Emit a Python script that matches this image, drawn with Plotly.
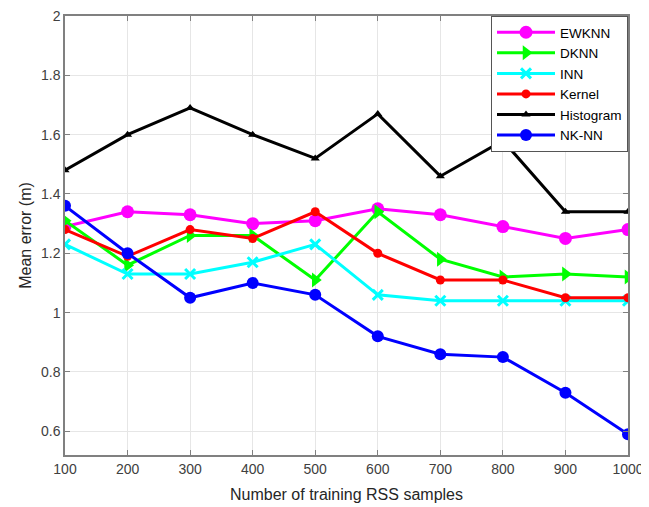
import plotly.graph_objects as go

x_vals = [100, 200, 300, 400, 500, 600, 700, 800, 900, 1000]
ewknn = [1.29, 1.34, 1.33, 1.30, 1.31, 1.35, 1.33, 1.29, 1.25, 1.28]
dknn = [1.31, 1.16, 1.26, 1.26, 1.11, 1.34, 1.18, 1.12, 1.13, 1.12]
inn = [1.23, 1.13, 1.13, 1.17, 1.23, 1.06, 1.04, 1.04, 1.04, 1.04]
kernel = [1.28, 1.19, 1.28, 1.25, 1.34, 1.20, 1.11, 1.11, 1.05, 1.05]
histogram = [1.48, 1.60, 1.69, 1.60, 1.52, 1.67, 1.46, 1.58, 1.34, 1.34]
nknn = [1.36, 1.20, 1.05, 1.10, 1.06, 0.92, 0.86, 0.85, 0.73, 0.59]
y_ticks = [0.6, 0.8, 1, 1.2, 1.4, 1.6, 1.8, 2]
y_tick_labels = ["0.6", "0.8", "1", "1.2", "1.4", "1.6", "1.8", "2"]

series = [
    ("EWKNN", ewknn, "#ff00ff", "circle", 13),
    ("DKNN", dknn, "#00ff00", "triangle-right", 13),
    ("INN", inn, "#00ffff", "x-thin", 10),
    ("Kernel", kernel, "#ff0000", "circle", 9),
    ("Histogram", histogram, "#000000", "triangle-up", 8),
    ("NK-NN", nknn, "#0000ff", "circle", 12),
]

fig = go.Figure()
for name, ys, color, sym, size in series:
    fig.add_trace(go.Scatter(
        x=x_vals, y=ys, name=name, mode="lines+markers",
        line=dict(color=color, width=3),
        marker=dict(symbol=sym, size=size, color=color,
                    line=dict(color=color, width=3 if sym == "x-thin" else 0)),
    ))

axis_common = dict(
    showline=True, linecolor="#808080", linewidth=1.5, mirror="ticks",
    ticks="inside", ticklen=5, tickcolor="#808080",
    showgrid=True, gridcolor="#e6e6e6", gridwidth=1,
    zeroline=False, automargin=False, ticklabeloverflow="allow",
    tickfont=dict(family="Liberation Sans, Arial, sans-serif", size=14, color="#404040"),
    title_font=dict(family="Liberation Sans, Arial, sans-serif", size=16, color="#262626"),
)

fig.update_layout(
    width=649, height=507,
    margin=dict(l=57, r=29, t=8, b=60),
    paper_bgcolor="white", plot_bgcolor="white",
    xaxis=dict(range=[100, 1000], tickvals=x_vals, title=dict(text="Number of training RSS samples", standoff=13), **axis_common),
    yaxis=dict(range=[0.52, 2.0], tickvals=y_ticks, ticktext=y_tick_labels, title=dict(text="Mean error (m)", standoff=5), **axis_common),
    legend=dict(
        x=1, y=1, xanchor="right", yanchor="top",
        bgcolor="white", bordercolor="#555555", borderwidth=1,
        font=dict(family="Liberation Sans, Arial, sans-serif", size=13.5, color="#000000"),
        itemwidth=58, tracegroupgap=0,
    ),
    showlegend=True,
)

fig.write_html("out.html")
